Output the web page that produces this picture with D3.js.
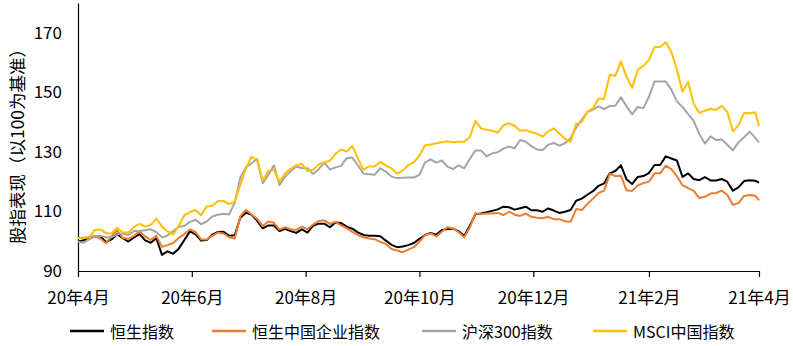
<!DOCTYPE html>
<html>
<head>
<meta charset="utf-8">
<script src="https://cdn.jsdelivr.net/npm/d3@7"></script>
<style>
  body { margin: 0; background: #fff; }
  svg { display: block; }
  text { font-family: "Noto Sans CJK SC", "Noto Sans", sans-serif; fill: #000; }
</style>
</head>
<body>
<svg id="chart" width="793" height="346"></svg>
<script>
// Observation dates (every third calendar day, 2020-04-01 .. 2021-04-01)
const dates = [
  "2020-04-01","2020-04-04","2020-04-07","2020-04-10","2020-04-13","2020-04-16","2020-04-19","2020-04-22","2020-04-25","2020-04-28",
  "2020-05-01","2020-05-04","2020-05-07","2020-05-10","2020-05-13","2020-05-16","2020-05-19","2020-05-22","2020-05-25","2020-05-28",
  "2020-05-31","2020-06-03","2020-06-06","2020-06-09","2020-06-12","2020-06-15","2020-06-18","2020-06-21","2020-06-24","2020-06-27",
  "2020-06-30","2020-07-03","2020-07-06","2020-07-09","2020-07-12","2020-07-15","2020-07-18","2020-07-21","2020-07-24","2020-07-27",
  "2020-07-30","2020-08-02","2020-08-05","2020-08-08","2020-08-11","2020-08-14","2020-08-17","2020-08-20","2020-08-23","2020-08-26",
  "2020-08-29","2020-09-01","2020-09-04","2020-09-07","2020-09-10","2020-09-13","2020-09-16","2020-09-19","2020-09-22","2020-09-25",
  "2020-09-28","2020-10-01","2020-10-04","2020-10-07","2020-10-10","2020-10-13","2020-10-16","2020-10-19","2020-10-22","2020-10-25",
  "2020-10-28","2020-10-31","2020-11-03","2020-11-06","2020-11-09","2020-11-12","2020-11-15","2020-11-18","2020-11-21","2020-11-24",
  "2020-11-27","2020-11-30","2020-12-03","2020-12-06","2020-12-09","2020-12-12","2020-12-15","2020-12-18","2020-12-21","2020-12-24",
  "2020-12-27","2020-12-30","2021-01-02","2021-01-05","2021-01-08","2021-01-11","2021-01-14","2021-01-17","2021-01-20","2021-01-23",
  "2021-01-26","2021-01-29","2021-02-01","2021-02-04","2021-02-07","2021-02-10","2021-02-13","2021-02-16","2021-02-19","2021-02-22",
  "2021-02-25","2021-02-28","2021-03-03","2021-03-06","2021-03-09","2021-03-12","2021-03-15","2021-03-18","2021-03-21","2021-03-24",
  "2021-03-27","2021-03-30","2021-04-01"
];

// 恒生指数
const hsi = [
  99.8,100.3,101.3,101.4,101.7,99.7,100.6,102.4,101.0,99.9,
  101.3,102.4,100.3,99.5,101.0,95.4,96.6,95.8,97.5,100.4,
  103.3,102.3,100.2,100.4,102.2,103.1,103.2,101.8,102.0,107.9,
  109.6,108.9,106.9,104.3,105.3,105.3,103.4,104.2,103.4,102.8,
  104.0,102.9,105.2,105.9,105.9,104.7,106.3,106.1,104.9,104.2,
  103.0,102.1,101.8,101.8,101.7,100.2,98.8,98.0,98.2,98.7,
  99.4,100.8,102.1,102.8,102.2,103.8,104.1,104.2,103.3,101.8,
  105.2,109.1,109.3,109.7,110.2,110.7,111.6,111.4,110.6,111.1,
  111.6,110.4,110.4,109.9,111.0,110.3,109.5,109.9,110.5,113.6,
  114.3,115.6,116.8,118.6,119.4,122.8,123.6,125.5,120.8,119.2,
  121.6,121.9,122.9,125.6,125.6,128.5,127.8,127.1,121.6,122.8,
  120.9,120.5,121.5,120.4,120.4,120.9,120.0,117.0,118.1,120.2,
  120.5,120.3,119.7
];

// 恒生中国企业指数
const hscei = [
  101.0,101.2,101.3,101.8,100.8,99.3,101.6,103.6,101.1,100.8,
  101.8,103.3,101.6,100.4,101.8,98.1,98.7,99.4,101.1,102.4,
  104.0,103.1,100.6,100.6,101.8,102.9,102.6,101.3,100.9,108.3,
  110.6,109.0,107.5,105.1,106.6,106.2,103.9,104.7,104.0,103.8,
  104.9,104.0,105.6,106.8,107.0,105.8,106.5,105.3,104.4,103.1,
  102.1,101.3,100.9,100.7,99.8,99.1,97.4,96.9,96.3,97.2,
  98.0,99.9,102.0,102.6,101.6,103.2,104.7,104.3,103.0,101.3,
  104.6,109.4,109.1,109.3,109.3,109.5,108.8,109.9,108.9,108.5,
  109.3,108.2,107.9,107.7,108.2,107.4,107.4,106.7,106.5,110.8,
  110.5,112.5,114.3,116.2,117.0,122.6,121.9,122.0,117.1,116.9,
  118.7,119.5,120.0,122.8,122.8,125.4,124.2,121.8,118.8,117.8,
  116.9,114.5,114.9,116.0,116.2,117.0,115.6,112.2,112.8,115.2,
  115.5,115.3,113.7
];

// 沪深300指数
const csi300 = [
  99.8,99.5,100.6,101.5,101.8,101.3,101.4,102.3,102.6,102.1,
  103.4,103.4,103.7,104.0,103.1,101.3,101.9,103.4,104.8,105.1,
  106.5,107.2,105.7,106.6,108.3,108.9,109.2,109.0,112.9,121.4,
  124.8,126.2,127.6,119.5,122.3,125.5,118.9,121.7,123.5,125.1,
  124.5,124.5,122.6,124.2,126.4,124.1,124.8,125.3,127.9,128.1,
  125.5,122.7,122.5,122.3,124.5,123.4,121.7,121.2,121.3,121.4,
  121.4,122.3,126.5,127.5,126.4,127.1,125.1,124.2,125.5,124.5,
  127.6,130.5,130.5,128.5,129.5,129.9,131.1,131.8,131.2,134.0,
  133.4,131.9,130.8,130.6,132.4,133.0,132.1,132.9,134.6,138.2,
  140.8,143.4,144.2,145.3,144.4,145.4,145.5,148.3,145.3,142.6,
  145.1,144.7,148.5,153.6,153.6,153.6,150.9,146.9,145.1,142.7,
  140.4,136.0,132.8,135.2,134.0,134.2,132.4,130.5,133.2,134.9,
  136.8,134.7,133.2
];

// MSCI中国指数
const msciChina = [
  101.0,101.1,101.3,103.8,104.0,102.7,102.6,104.5,102.9,102.9,
  104.8,105.8,104.9,105.5,107.6,104.9,103.3,102.3,105.1,108.7,
  109.8,110.5,108.7,111.7,111.9,113.5,113.5,112.5,113.2,118.9,
  124.5,128.3,127.3,120.4,123.6,124.0,119.9,122.8,124.3,125.5,
  126.0,123.6,124.0,125.8,126.5,127.0,129.3,130.8,130.1,132.0,
  127.8,124.0,125.1,125.1,126.7,125.5,124.5,122.7,123.7,125.6,
  126.5,128.7,132.2,132.5,132.9,133.2,133.6,133.2,133.4,133.4,
  134.9,140.4,137.9,137.4,137.1,136.5,138.9,139.6,138.7,137.1,
  137.3,136.6,136.1,135.1,136.9,137.9,136.2,134.4,133.4,139.4,
  140.0,143.5,144.6,147.9,147.8,155.9,155.5,160.4,155.2,151.5,
  157.6,158.9,160.9,165.2,165.2,166.8,163.6,157.6,150.2,153.5,
  146.1,143.1,143.8,144.5,144.1,145.5,143.4,136.9,138.9,143.1,
  143.0,143.3,138.7
];

const seriesNames = ["恒生指数", "恒生中国企业指数", "沪深300指数", "MSCI中国指数"];
const seriesColors = ["#000000", "#ED7D31", "#A5A5A5", "#FFC000"];
const seriesValues = [hsi, hscei, csi300, msciChina];

const yTicks = [90, 110, 130, 150, 170];
const xTickDates = ["2020-04-01", "2020-06-01", "2020-08-01", "2020-10-01", "2020-12-01", "2021-02-01", "2021-04-01"];
const yTitle = "股指表现（以100为基准）";

const parse = d3.timeParse("%Y-%m-%d");
const svg = d3.select("#chart");

const x = d3.scaleTime()
  .domain([parse("2020-04-01"), parse("2021-04-01")])
  .range([78, 759]);
const y = d3.scaleLinear()
  .domain([90, 180])
  .range([271, 3]);

const fmt = d => `${String(d.getFullYear()).slice(2)}年${d.getMonth() + 1}月`;

// x axis
const gx = svg.append("g")
  .attr("transform", "translate(0,271)")
  .call(d3.axisBottom(x)
    .tickValues(xTickDates.map(parse))
    .tickFormat(fmt)
    .tickSizeInner(6)
    .tickSizeOuter(0)
    .tickPadding(15));
gx.select(".domain").attr("stroke", "#000").attr("stroke-width", 1.2);
gx.selectAll(".tick line").attr("stroke", "#000").attr("stroke-width", 1.2);
gx.selectAll(".tick text").attr("font-size", 17).attr("font-family", null);

// y axis
const gy = svg.append("g")
  .attr("transform", "translate(78,0)")
  .call(d3.axisLeft(y)
    .tickValues(yTicks)
    .tickSizeInner(0)
    .tickSizeOuter(0)
    .tickPadding(16));
gy.select(".domain").attr("stroke", "#000").attr("stroke-width", 1.2);
gy.selectAll(".tick text").attr("font-size", 17).attr("font-family", null);

// y axis title
svg.append("text")
  .attr("transform", "translate(16,142) rotate(-90)")
  .attr("text-anchor", "middle")
  .attr("dominant-baseline", "central")
  .attr("font-size", 17.5)
  .text(yTitle);

// series lines
const line = d3.line()
  .x((d, i) => x(parse(dates[i])))
  .y(d => y(d));

svg.append("g")
  .selectAll("path")
  .data(seriesValues)
  .join("path")
  .attr("d", d => line(d))
  .attr("fill", "none")
  .attr("stroke", (d, i) => seriesColors[i])
  .attr("stroke-width", 2)
  .attr("stroke-linejoin", "round");

// legend
const legendX = [70, 212, 422, 593];
const legend = svg.append("g")
  .selectAll("g")
  .data(seriesNames)
  .join("g")
  .attr("transform", (d, i) => `translate(${legendX[i]},331)`);
legend.append("line")
  .attr("x1", 0).attr("x2", 34)
  .attr("stroke", (d, i) => seriesColors[i])
  .attr("stroke-width", 2.5);
legend.append("text")
  .attr("x", 40)
  .attr("dominant-baseline", "central")
  .attr("font-size", 16)
  .text(d => d);
</script>
</body>
</html>
